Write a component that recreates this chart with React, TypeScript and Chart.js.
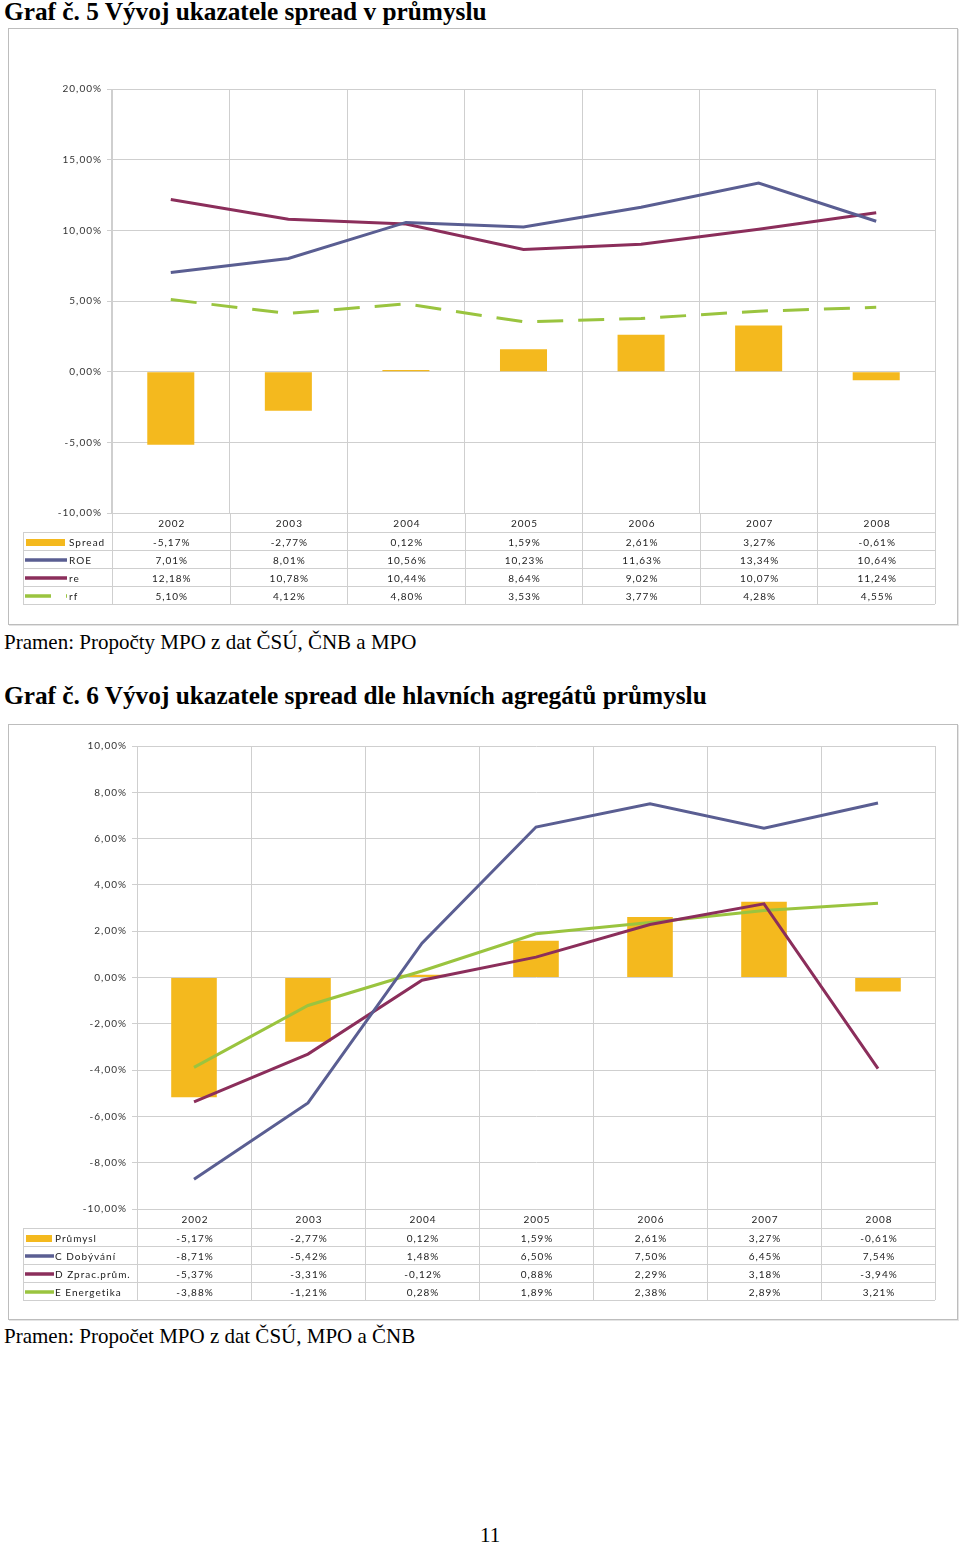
import React, { useEffect, useRef } from "react";
import { Chart, registerables } from "chart.js";

Chart.register(...registerables);

// ---------- data ----------
const years = ["2002", "2003", "2004", "2005", "2006", "2007", "2008"];

// Graf č. 5
const spread = [-5.17, -2.77, 0.12, 1.59, 2.61, 3.27, -0.61];
const roe = [7.01, 8.01, 10.56, 10.23, 11.63, 13.34, 10.64];
const re = [12.18, 10.78, 10.44, 8.64, 9.02, 10.07, 11.24];
const rf = [5.1, 4.12, 4.8, 3.53, 3.77, 4.28, 4.55];

// Graf č. 6
const prumysl = [-5.17, -2.77, 0.12, 1.59, 2.61, 3.27, -0.61];
const dobyvani = [-8.71, -5.42, 1.48, 6.5, 7.5, 6.45, 7.54];
const zprac = [-5.37, -3.31, -0.12, 0.88, 2.29, 3.18, -3.94];
const energetika = [-3.88, -1.21, 0.28, 1.89, 2.38, 2.89, 3.21];

const chart1Axis = { min: -10, max: 20, step: 5 };
const chart2Axis = { min: -10, max: 10, step: 2 };

// ---------- styles ----------
const GOLD = "#F4B91E";
const SLATE = "#5A5E92";
const PLUM = "#8B2E5B";
const GREEN = "#9AC43F";
const GRID = "#cfcfcf";
const TICK_COLOR = "#333333";
const TABLE_COLOR = "#222222";
const FONT_FAMILY = "Lato";
const FONT_SIZE = 10;
const RF_DASH = [26, 15];

const fmt = (v: number) => v.toFixed(2).replace(".", ",") + "%";

const spacingPlugin = {
  id: "letterSpacing",
  beforeDraw(chart: any) {
    try {
      chart.ctx.letterSpacing = "1px";
    } catch (e) {}
  },
};

const tablePlugin = {
  id: "dataTable",
  afterDraw(chart: any) {
    const o = chart.options.plugins.dataTable;
    if (!o || !o.rows) return;
    const { ctx, chartArea } = chart;
    const xs = chart.scales.x;
    const B = chartArea.bottom;
    const L = chartArea.left;
    const R = chartArea.right;
    const n = years.length;
    const cw = (R - L) / n;
    const rowTops: number[] = [B + o.headerH];
    for (let i = 0; i < o.rows.length; i++) rowTops.push(rowTops[i] + o.rowH);
    const bottom = rowTops[rowTops.length - 1];
    const px = (v: number) => Math.round(v) + 0.5;

    ctx.save();
    try {
      ctx.letterSpacing = "1px";
    } catch (e) {}
    ctx.strokeStyle = GRID;
    ctx.lineWidth = 1;
    ctx.setLineDash([]);
    ctx.beginPath();
    for (const y of rowTops) {
      ctx.moveTo(o.tableLeft, px(y));
      ctx.lineTo(R, px(y));
    }
    for (let i = 0; i <= n; i++) {
      const x = px(L + i * cw);
      ctx.moveTo(x, B);
      ctx.lineTo(x, bottom);
    }
    ctx.moveTo(px(o.tableLeft), rowTops[0]);
    ctx.lineTo(px(o.tableLeft), bottom);
    ctx.stroke();

    ctx.font = `${FONT_SIZE}px ${FONT_FAMILY}`;
    ctx.fillStyle = TABLE_COLOR;
    ctx.textBaseline = "middle";
    ctx.textAlign = "center";
    years.forEach((y, i) => ctx.fillText(y, xs.getPixelForValue(i) + 1, B + o.headerH / 2 + 1));

    o.rows.forEach((r: any, ri: number) => {
      const cy = rowTops[ri] + o.rowH / 2 + 2;
      ctx.textAlign = "center";
      ctx.fillStyle = TABLE_COLOR;
      r.values.forEach((v: number, i: number) => ctx.fillText(fmt(v), xs.getPixelForValue(i) + 1, cy));
      // legend marker
      if (r.kind === "bar") {
        ctx.fillStyle = r.color;
        ctx.fillRect(o.m0 + 1, cy - 4, o.m1 - o.m0 - 1, 7);
      } else {
        ctx.save();
        ctx.strokeStyle = r.color;
        ctx.lineWidth = 3.5;
        ctx.setLineDash(r.dash || []);
        ctx.beginPath();
        ctx.moveTo(o.m0, cy - 1);
        ctx.lineTo(o.m1 + 2, cy - 1);
        ctx.stroke();
        ctx.restore();
      }
      ctx.fillStyle = TABLE_COLOR;
      ctx.textAlign = "left";
      ctx.fillText(r.label, o.labelX, cy);
    });
    ctx.restore();
  },
};

function makeConfig(p: any) {
  return {
    type: "bar",
    data: { labels: years, datasets: p.datasets },
    options: {
      responsive: false,
      animation: false,
      devicePixelRatio: 1,
      layout: { padding: p.padding },
      plugins: {
        legend: { display: false },
        tooltip: { enabled: false },
        dataTable: p.table,
      },
      scales: {
        x: {
          grid: { color: GRID, offset: true, drawTicks: false, lineWidth: 1 },
          ticks: { display: false },
          border: { color: GRID },
          afterFit: (s: any) => {
            s.height = 0;
          },
        },
        y: {
          min: p.axis.min,
          max: p.axis.max,
          ticks: {
            stepSize: p.axis.step,
            callback: (v: any) => fmt(Number(v)),
            font: { family: FONT_FAMILY, size: FONT_SIZE },
            color: TICK_COLOR,
            padding: 5,
          },
          grid: { color: GRID, tickLength: 5, lineWidth: 1 },
          border: { color: GRID },
          afterFit: (s: any) => {
            s.width = p.yWidth;
          },
        },
      },
    },
    plugins: [spacingPlugin, tablePlugin],
  } as any;
}

const line = (data: number[], color: string, dash?: number[]) => ({
  type: "line",
  data,
  borderColor: color,
  backgroundColor: color,
  borderWidth: 3,
  pointRadius: 0,
  tension: 0,
  fill: false,
  order: 1,
  borderDash: dash || [],
});

const bars = (data: number[]) => ({
  type: "bar",
  data,
  backgroundColor: GOLD,
  categoryPercentage: 1,
  barPercentage: 0.4,
  order: 10,
});

const config1 = () =>
  makeConfig({
    axis: chart1Axis,
    yWidth: 104,
    padding: { left: 0, top: 61, right: 23, bottom: 112 },
    datasets: [bars(spread), line(roe, SLATE), line(re, PLUM), line(rf, GREEN, RF_DASH)],
    table: {
      headerH: 19,
      rowH: 18,
      tableLeft: 15,
      m0: 17,
      m1: 57,
      labelX: 61,
      rows: [
        { label: "Spread", kind: "bar", color: GOLD, values: spread },
        { label: "ROE", kind: "line", color: SLATE, values: roe },
        { label: "re", kind: "line", color: PLUM, values: re },
        { label: "rf", kind: "line", color: GREEN, values: rf, dash: RF_DASH },
      ],
    },
  });

const config2 = () =>
  makeConfig({
    axis: chart2Axis,
    yWidth: 129,
    padding: { left: 0, top: 22, right: 23, bottom: 111 },
    datasets: [bars(prumysl), line(dobyvani, SLATE), line(zprac, PLUM), line(energetika, GREEN)],
    table: {
      headerH: 19,
      rowH: 18,
      tableLeft: 15,
      m0: 17,
      m1: 44,
      labelX: 47,
      rows: [
        { label: "Průmysl", kind: "bar", color: GOLD, values: prumysl },
        { label: "C Dobývání", kind: "line", color: SLATE, values: dobyvani },
        { label: "D Zprac.prům.", kind: "line", color: PLUM, values: zprac },
        { label: "E Energetika", kind: "line", color: GREEN, values: energetika },
      ],
    },
  });

function ChartBox(props: { make: () => any; left: number; top: number; width: number; height: number }) {
  const ref = useRef<HTMLCanvasElement>(null);
  useEffect(() => {
    const chart = new Chart(ref.current as HTMLCanvasElement, props.make());
    return () => chart.destroy();
  }, []);
  const { left, top, width, height } = props;
  return (
    <>
      <canvas
        ref={ref}
        width={width}
        height={height}
        style={{ position: "absolute", left, top, width, height, display: "block" }}
      />
      <div
        style={{
          position: "absolute",
          left,
          top,
          width,
          height,
          boxSizing: "border-box",
          border: "1px solid #bdbdbd",
          boxShadow: "1px 1px 0 #e4e4e4",
          pointerEvents: "none",
        }}
      />
    </>
  );
}

const serif = '"Liberation Serif", "Times New Roman", serif';

function Text(props: { text: string; left: number; baseline: number; size: number; bold?: boolean }) {
  const { text, left, baseline, size, bold } = props;
  return (
    <div
      style={{
        position: "absolute",
        left,
        top: baseline - 0.8375 * size,
        fontFamily: serif,
        fontSize: size,
        lineHeight: `${size}px`,
        fontWeight: bold ? "bold" : "normal",
        whiteSpace: "nowrap",
        color: "#000",
      }}
    >
      {text}
    </div>
  );
}

export default function App() {
  return (
    <div
      style={{
        position: "absolute",
        left: 0,
        top: 0,
        width: 960,
        height: 1543,
        background: "#fff",
        overflow: "hidden",
      }}
    >
      <Text text="Graf č. 5 Vývoj ukazatele spread v průmyslu" left={4} baseline={20} size={25.3} bold />
      <ChartBox make={config1} left={8} top={28} width={950} height={597} />
      <Text text="Pramen: Propočty MPO z dat ČSÚ, ČNB a MPO" left={4} baseline={650} size={21} />
      <Text
        text="Graf č. 6 Vývoj ukazatele spread dle hlavních agregátů průmyslu"
        left={4}
        baseline={704}
        size={25.3}
        bold
      />
      <ChartBox make={config2} left={8} top={724} width={950} height={596} />
      <Text text="Pramen: Propočet MPO z dat ČSÚ, MPO a ČNB" left={4} baseline={1344} size={21} />
      <Text text="11" left={480} baseline={1543} size={21} />
    </div>
  );
}
